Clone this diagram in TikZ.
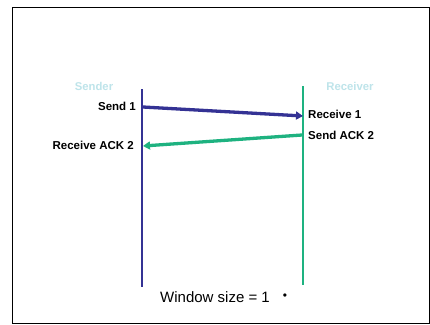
\documentclass[tikz,border=0pt]{standalone}
\usepackage{fontspec}
\setmainfont{Liberation Sans}
\usetikzlibrary{arrows.meta}
\definecolor{sendblue}{RGB}{52,50,148}
\definecolor{ackgreen}{RGB}{30,178,128}
\definecolor{rolecyan}{RGB}{190,228,234}
\tikzset{
  role/.style={font=\fontsize{11.3}{13}\selectfont\bfseries, text=rolecyan, inner sep=0pt},
  event/.style={font=\fontsize{11.5}{13}\selectfont\bfseries, inner sep=0pt},
  timeline/.style={line width=2.8pt},
  msg/.style={line width=3.3pt, -{Triangle[length=7pt,width=8pt]}},
}
\begin{document}
\begin{tikzpicture}[x=1pt,y=-1pt]
\useasboundingbox (0,0) rectangle (430,324);
\fill[white] (0,0) rectangle (430,324);
\draw[line width=1pt] (12.5,7) rectangle (429,323);

% time lines of the two ends
\coordinate (stop) at (142,89);
\coordinate (sbot) at (142,287);
\coordinate (rtop) at (303,86);
\coordinate (rbot) at (303,285);
\draw[timeline, sendblue] (stop) -- (sbot);
\draw[timeline, ackgreen] (rtop) -- (rbot);

\node[role] (sender) at (94,86) {Sender};
\node[role] (receiver) at (350,86) {Receiver};

% message exchange points
\coordinate (s1) at (143,107);
\coordinate (r1) at (303,116);
\coordinate (r2) at (302,135);
\coordinate (s2) at (143,146);
\draw[msg, sendblue] (s1) -- (r1);
\draw[msg, ackgreen] (r2) -- (s2);

\node[event, anchor=east] (send1) at (136,106) {Send 1};
\node[event, anchor=west] (recv1) at (308,114) {Receive 1};
\node[event, anchor=west] (sendack) at (308,135) {Send ACK 2};
\node[event, anchor=east] (recvack) at (134,145) {Receive ACK 2};

\node[font=\fontsize{15}{18}\selectfont, inner sep=0pt, anchor=west] (win) at (160,297) {Window size = 1};
\node[font=\fontsize{12}{14}\selectfont, inner sep=0pt] (dot) at (285,297) {•};
\end{tikzpicture}
\end{document}
